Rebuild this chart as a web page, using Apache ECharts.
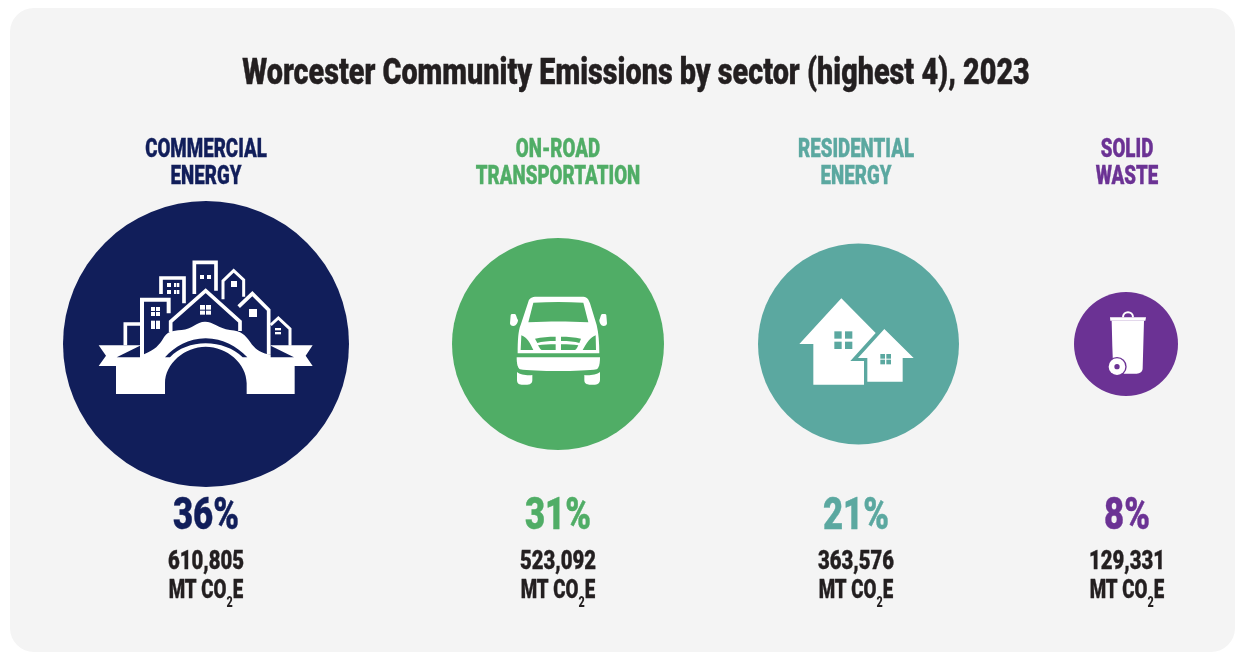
<!DOCTYPE html>
<html>
<head>
<meta charset="utf-8">
<title>Worcester Community Emissions by sector</title>
<style>html,body{margin:0;padding:0;background:#fff}#chart{width:1235px;height:652px}</style>
<script src="https://cdn.jsdelivr.net/npm/echarts@6/dist/echarts.min.js"></script>
</head>
<body>
<div id="chart"></div>
<script>
// Sector figures
const chartTitle = 'Worcester Community Emissions by sector (highest 4), 2023';
const sectorLines = [['COMMERCIAL', 'ENERGY'], ['ON-ROAD', 'TRANSPORTATION'], ['RESIDENTIAL', 'ENERGY'], ['SOLID', 'WASTE']];
const sharePercent = [36, 31, 21, 8];
const emissionsMt = [610805, 523092, 363576, 129331];
const sectorColors = ['#111E5A', '#50AD66', '#5BA8A0', '#6B3294'];

// Column layout
const discCentreX = [206, 558, 858.5, 1126];
const discCentreY = 344;
const discRadius = [143, 106, 100.5, 52];
const labelCentreX = [206, 558, 856, 1127];

const FONT = 'Roboto, "Liberation Sans", sans-serif';
const INK = '#231F20';
const WHITE = '#FFFFFF';

function caption(str, x, y, size, color, widthScale) {
  return {
    type: 'text', x: x, y: y, scaleX: widthScale, z: 20,
    style: { text: str, fontFamily: FONT, fontWeight: 900, fontSize: size, fill: color, stroke: color, lineWidth: 0.4, align: 'center', verticalAlign: 'middle' }
  };
}

// Unit line with the subscript in CO2e
function unitCaption(x, y) {
  return {
    type: 'text', x: x, y: y, scaleX: 0.72, z: 20,
    style: {
      text: '{u|MT CO}{s|2}{u|E}', align: 'center', verticalAlign: 'middle',
      rich: {
        u: { fontFamily: FONT, fontWeight: 900, fontSize: 26, fill: INK, stroke: INK, lineWidth: 0.4, lineHeight: 30 },
        s: { fontFamily: FONT, fontWeight: 900, fontSize: 15, fill: INK, lineHeight: 30, padding: [24, 0, 0, 0] }
      }
    }
  };
}

// Icon helpers: outlines are authored on a 3x grid and scaled down into place
function solid(d, fill) { return { type: 'path', shape: { pathData: d }, style: { fill: fill } }; }
function outline(d, w) { return { type: 'path', shape: { pathData: d }, style: { fill: 'none', stroke: WHITE, lineWidth: w, lineJoin: 'miter', lineCap: 'butt' } }; }
function box(x, y, w, h, fill) { return { type: 'rect', shape: { x: x, y: y, width: w, height: h }, style: { fill: fill } }; }
function dot(cx, cy, r, fill) { return { type: 'circle', shape: { cx: cx, cy: cy, r: r }, style: { fill: fill } }; }
function iconGroup(x, y, children) { return { type: 'group', x: x, y: y, scaleX: 1 / 3, scaleY: 1 / 3, children: children }; }

function bridgeIcon(bg) {
  return iconGroup(60, 200, [
    solid('M116 436 H240 V465 L252 463 C285 450 298 435 310 415 C320 396 335 392 365 390 C395 388 410 365 435 365 C460 365 475 385 510 390 C545 393 555 405 570 425 C585 448 600 455 620 462 L632 465 V436 H758 L737 467 L758 498 H704 V582 H560 V550 C560 490 500 440 437 440 C375 440 315 490 315 550 V582 H168 V498 H116 L138 467 Z', WHITE),
    solid('M170 472 L240 437 V472 Z', bg),
    solid('M702 472 L632 437 V472 Z', bg),
    solid('M315 472 C345 440 385 415 437 415 C490 415 530 440 562 472 H548 C520 445 480 430 437 430 C395 430 355 445 330 472 Z', bg),
    outline('M196 436 V372 H240', 11),
    outline('M246 466 V299 H326 V340', 12),
    outline('M303 282 V234 H372 V310', 11),
    outline('M403 282 V187 H468 V272', 11),
    outline('M489 298 V243 L521 212 L551 240 V290', 9),
    outline('M536 320 L577 281 L626 330 V464', 11),
    outline('M632 375 L655 354 L690 387 V437', 9),
    outline('M332 396 V365 L437 272 L540 365 V393', 11),
    box(273, 321, 12, 12, WHITE), box(288, 321, 12, 12, WHITE), box(273, 336, 12, 12, WHITE), box(288, 336, 12, 12, WHITE),
    box(273, 362, 12, 25, WHITE), box(288, 362, 12, 25, WHITE),
    box(321, 249, 12, 12, WHITE), box(342, 249, 7, 12, WHITE), box(351, 249, 7, 12, WHITE),
    box(321, 270, 12, 12, WHITE), box(342, 270, 7, 12, WHITE), box(351, 270, 7, 12, WHITE),
    box(420, 225, 12, 12, WHITE), box(441, 225, 12, 12, WHITE),
    box(513, 243, 18, 18, WHITE), box(567, 327, 24, 24, WHITE),
    box(645, 384, 18, 7, WHITE), box(645, 396, 18, 7, WHITE),
    box(420, 315, 15, 14, WHITE), box(438, 315, 15, 14, WHITE), box(420, 332, 15, 12, WHITE), box(438, 332, 15, 12, WHITE)
  ]);
}

function vanIcon(bg) {
  return iconGroup(450, 240, [
    solid('M235 185 C238 175 245 170 260 170 H395 C410 170 415 175 420 190 L440 255 C446 280 448 310 448 340 H203 C203 300 205 270 212 255 Z', WHITE),
    solid('M250 188 C300 185 350 185 400 188 L415 247 C350 244 300 244 235 247 Z', bg),
    solid('M214 286 C232 292 240 310 250 330 H212 Z', bg),
    solid('M437 286 C420 292 410 310 398 330 H438 Z', bg),
    solid('M255 296 C275 291 295 290 317 290 V303 C295 303 275 305 262 309 Z', bg),
    solid('M264 316 C280 313 295 313 317 313 V330 H275 C270 328 268 322 264 316 Z', bg),
    solid('M393 296 C373 291 355 290 333 290 V303 C355 303 375 305 388 309 Z', bg),
    solid('M385 316 C370 313 355 313 333 313 V330 H375 C380 328 382 322 385 316 Z', bg),
    solid('M200 352 H450 C450 370 447 385 440 388 C400 395 250 395 210 388 C203 385 200 370 200 352 Z', WHITE),
    solid('M201 396 C210 405 235 407 247 405 V420 C247 430 240 434 232 434 H215 C205 434 201 428 201 420 Z', WHITE),
    solid('M403 405 C415 407 440 405 450 396 V420 C450 428 445 434 435 434 H418 C410 434 403 430 403 420 Z', WHITE),
    solid('M182 226 C182 222 186 221 194 222 C199 222 199 232 204 240 C204 248 198 258 190 258 C184 258 180 255 180 250 Z', WHITE),
    solid('M469 226 C469 222 465 221 457 222 C452 222 452 232 448 240 C448 248 453 258 461 258 C467 258 471 255 471 250 Z', WHITE)
  ]);
}

function housesIcon(bg) {
  return iconGroup(760, 240, [
    solid('M244 175 L347 279 L271 363 H312 V434 H160 V312 H118 Z', WHITE),
    box(223, 274, 22, 22, bg), box(255, 274, 22, 22, bg), box(223, 305, 22, 22, bg), box(255, 305, 22, 22, bg),
    solid('M373 267 L461 354 H428 V425 H322 V354 H294 Z', WHITE),
    box(361, 342, 14, 14, bg), box(379, 342, 14, 14, bg), box(361, 359, 14, 14, bg), box(379, 359, 14, 14, bg)
  ]);
}

function binIcon(bg) {
  return iconGroup(1060, 280, [
    outline('M189 112 C189 92 219 92 219 112', 6),
    solid('M150 112 H258 L256 122 H151 Z', WHITE),
    solid('M155 122 H252 L248 265 C248 275 240 281 230 281 H160 L157 200 Z', WHITE),
    dot(171, 260, 29, bg), dot(171, 260, 25, WHITE), dot(171, 260, 8, bg)
  ]);
}

const icons = [bridgeIcon, vanIcon, housesIcon, binIcon];

const elements = [
  { type: 'rect', z: -1, shape: { x: 10, y: 8, width: 1225, height: 644, r: 24 }, style: { fill: '#F4F4F4' } },
  caption(chartTitle, 636, 75, 37, INK, 0.777)
];

sectorLines.forEach(function (lines, i) {
  const cx = labelCentreX[i];
  elements.push(caption(lines[0], cx, 150, 26, sectorColors[i], 0.72));
  elements.push(caption(lines[1], cx, 177, 26, sectorColors[i], 0.72));
  elements.push(caption(sharePercent[i] + '%', cx, 518, 44, sectorColors[i], 0.79));
  elements.push(caption(emissionsMt[i].toLocaleString('en-US'), cx, 562, 26, INK, 0.78));
  elements.push(unitCaption(cx, 591));
});

const discSeries = sectorLines.map(function (lines, i) {
  return {
    type: 'pie',
    name: lines.join(' '),
    center: [discCentreX[i], discCentreY],
    radius: [0, discRadius[i]],
    silent: true,
    z: 5,
    label: { show: false },
    labelLine: { show: false },
    itemStyle: { color: sectorColors[i] },
    data: [{ name: lines.join(' '), value: emissionsMt[i] }]
  };
});

const iconSeries = {
  type: 'custom',
  coordinateSystem: 'none',
  silent: true,
  z: 10,
  data: emissionsMt.map(function (v, i) { return [i, v]; }),
  renderItem: function (params, api) {
    const i = api.value(0);
    return icons[i](sectorColors[i]);
  }
};

const chart = echarts.init(document.getElementById('chart'), null, { renderer: 'canvas' });
chart.setOption({
  animation: false,
  tooltip: { show: false },
  graphic: { elements: elements },
  series: discSeries.concat([iconSeries])
});
</script>
</body>
</html>
